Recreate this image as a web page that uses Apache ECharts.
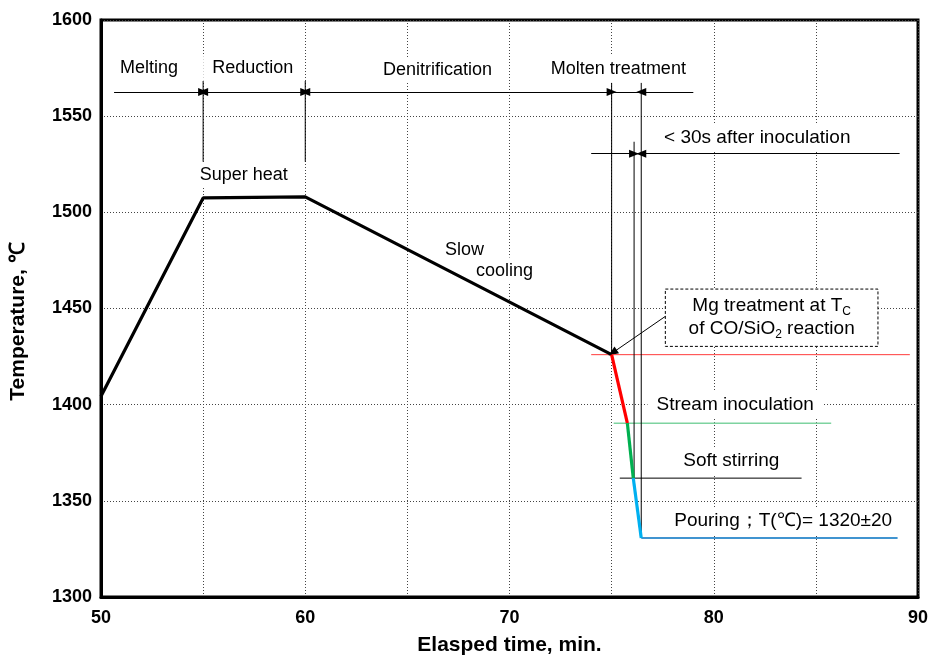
<!DOCTYPE html>
<html><head><meta charset="utf-8">
<script src="https://cdn.jsdelivr.net/npm/echarts/dist/echarts.min.js"></script>
<style>html,body{margin:0;padding:0;background:#fff}#c{width:933px;height:661px}</style>
</head><body><div id="c"></div>
<script>
// ---- data ----
const xTickLabels = [50, 60, 70, 80, 90];
const yTickLabels = [1300, 1350, 1400, 1450, 1500, 1550, 1600];
const mainTime = [50, 55, 60, 75];
const mainTemp = [1404.4, 1507.5, 1508, 1426];
const mgTime = [75, 75.77];
const mgTemp = [1426, 1390.4];
const inocTime = [75.77, 76.06];
const inocTemp = [1390.4, 1361.8];
const pourTime = [76.06, 76.45];
const pourTemp = [1361.8, 1330.7];

// horizontal reference lines: [startTime, endTime, temp]
const refRed = [74.0, 89.6, 1426];
const refGreen = [75.1, 85.75, 1390.4];
const refBlack = [75.4, 84.3, 1361.8];
const refBlue = [76.45, 89.0, 1330.7];

// vertical guide lines: [time, topTemp, bottomTemp]
const vLines = [[55, 1568.3, 1526.3], [60, 1568.3, 1526.3], [75, 1567.3, 1426], [76.1, 1536.7, 1361.8], [76.45, 1567.3, 1330.7]];

// stage dimension arrows
const stageTemp = 1562.6;
const stageNames = ['Melting', 'Reduction', 'Denitrification', 'Molten treatment'];
const stageNameTime = [52.35, 57.43, 66.48, 75.33];
const stageNameTemp = [1575, 1575, 1574, 1574.6];
const inocArrowTemp = 1530.5;

// annotation texts
const noteText = ['Super heat', 'Slow', 'cooling', '< 30s after inoculation', 'Stream inoculation', 'Soft stirring', 'Pouring；T(℃)= 1320±20'];
const noteTime = [56.99, 67.8, 69.76, 82.13, 81.05, 80.86, 83.4];
const noteTemp = [1519.6, 1480.6, 1469.7, 1538.8, 1399.7, 1370.6, 1339.5];
const noteSize = [18, 18, 18, 19, 19, 19, 19];

// Mg box
const mgBox = [77.63, 1460.1, 88.04, 1430.3];
const mgArrow = [77.63, 1445.9, 75.05, 1427];

// ---- chart ----
const F = '"Liberation Sans", Arial, sans-serif';
const chart = echarts.init(document.getElementById('c'));
const zip = (a, b) => a.map((v, i) => [v, b[i]]);
function seg(name, pts, color, width, z) {
  return { name, type: 'line', data: pts, showSymbol: false, symbol: 'none', silent: true, z: z || 10,
    lineStyle: { color, width }, animation: false };
}
const AR = 'triangle', AS = [8, 10];
function arr(x1, y1, x2, y2, s1, s2) {
  return [{ coord: [x1, y1], symbol: s1 ? AR : 'none', symbolSize: AS }, { coord: [x2, y2], symbol: s2 ? AR : 'none', symbolSize: AS }];
}
const series = [];
series.push({
  name: 'main', type: 'line', data: zip(mainTime, mainTemp), showSymbol: false, symbol: 'none', z: 12,
  lineStyle: { color: '#000', width: 3.2 }, animation: false, silent: true,
  markLine: {
    silent: true, animation: false, label: { show: false },
    lineStyle: { color: '#000', width: 1, type: 'solid' },
    data: [
      arr(stageNameTime[0] - 1.71, stageTemp, 55, stageTemp, false, true),
      arr(55, stageTemp, 60, stageTemp, true, true),
      arr(60, stageTemp, 75, stageTemp, true, true),
      arr(75, stageTemp, 76.45, stageTemp, false, false),
      arr(79, stageTemp, 76.45, stageTemp, false, true),
      arr(74, inocArrowTemp, 76.1, inocArrowTemp, false, true),
      arr(76.1, inocArrowTemp, 76.45, inocArrowTemp, false, false),
      arr(89.1, inocArrowTemp, 76.45, inocArrowTemp, false, true),
      arr(mgArrow[0], mgArrow[1], mgArrow[2], mgArrow[3], false, true)
    ]
  }
});
series.push(seg('mg', zip(mgTime, mgTemp), '#FF0000', 3.2, 14));
series.push(seg('inoc', zip(inocTime, inocTemp), '#00B050', 3.2, 14));
series.push(seg('pour', zip(pourTime, pourTemp), '#00B0F0', 3.2, 14));
series.push(seg('refRed', [[refRed[0], refRed[2]], [refRed[1], refRed[2]]], '#FF3B3B', 1));
series.push(seg('refGreen', [[refGreen[0], refGreen[2]], [refGreen[1], refGreen[2]]], '#7ED3A0', 1.5));
series.push(seg('refBlack', [[refBlack[0], refBlack[2]], [refBlack[1], refBlack[2]]], '#000', 1));
series.push(seg('refBlue', [[refBlue[0], refBlue[2]], [refBlue[1], refBlue[2]]], '#0070C0', 1.5));
vLines.forEach((v, i) => series.push(seg('v' + i, [[v[0], v[1]], [v[0], v[2]]], '#000', 1)));

function noteLabel(size) {
  return { show: true, position: 'inside', formatter: '{b}', color: '#000', opacity: 1, fontSize: size, fontFamily: F,
    backgroundColor: '#fff', padding: [4, 9], textBorderWidth: 0 };
}
const notes = [];
stageNames.forEach((t, i) => notes.push({ name: t, coord: [stageNameTime[i], stageNameTemp[i]], label: noteLabel(18) }));
noteText.forEach((t, i) => notes.push({ name: t, coord: [noteTime[i], noteTemp[i]], label: noteLabel(noteSize[i]) }));
series.push({ name: 'notes', type: 'line', data: [], z: 2, silent: true, animation: false,
  markPoint: { silent: true, animation: false, symbol: 'circle', symbolSize: 0,
    itemStyle: { color: '#fff', opacity: 1 }, data: notes } });

series.push({ name: 'box', type: 'line', data: [], z: 2, silent: true, animation: false,
  markArea: { silent: true, animation: false,
    itemStyle: { color: '#fff', borderColor: '#000', borderWidth: 1, borderType: [3, 2] },
    label: { show: true, position: 'inside', color: '#000', fontSize: 19, fontFamily: F, lineHeight: 23,
      formatter: 'Mg treatment at T{sub|C}\nof CO/SiO{sub|2} reaction',
      rich: { sub: { fontSize: 12, fontFamily: F, verticalAlign: 'bottom', lineHeight: 17 } } },
    data: [[{ coord: [mgBox[0], mgBox[1]] }, { coord: [mgBox[2], mgBox[3]] }]] } });

chart.setOption({
  animation: false,
  backgroundColor: '#fff',
  grid: { left: 100, right: 15, top: 20, bottom: 63, show: true, borderColor: '#000', borderWidth: 3, backgroundColor: 'transparent' },
  xAxis: {
    type: 'value', min: 50, max: 90, interval: 5,
    name: 'Elasped time, min.', nameLocation: 'middle', nameGap: 38,
    nameTextStyle: { fontFamily: F, fontWeight: 'bold', fontSize: 21, color: '#000' },
    axisLine: { show: true, lineStyle: { color: '#000', width: 3 } }, axisTick: { show: false },
    axisLabel: { margin: 12, color: '#000', fontFamily: F, fontWeight: 'bold', fontSize: 18,
      formatter: v => xTickLabels.indexOf(v) >= 0 ? String(v) : '' },
    splitLine: { show: true, lineStyle: { type: [1, 2], color: '#444', width: 1 } }
  },
  yAxis: {
    type: 'value', min: 1300, max: 1600, interval: 50,
    name: 'Temperature, ℃', nameLocation: 'middle', nameGap: 72,
    nameTextStyle: { fontFamily: F, fontWeight: 'bold', fontSize: 21, color: '#000', padding: [0, 26, 0, 0] },
    axisLine: { show: true, lineStyle: { color: '#000', width: 3 } }, axisTick: { show: false },
    axisLabel: { margin: 9, color: '#000', fontFamily: F, fontWeight: 'bold', fontSize: 18,
      formatter: v => yTickLabels.indexOf(v) >= 0 ? String(v) : '' },
    splitLine: { show: true, lineStyle: { type: [1, 2], color: '#444', width: 1 } }
  },
  series
});
</script></body></html>
